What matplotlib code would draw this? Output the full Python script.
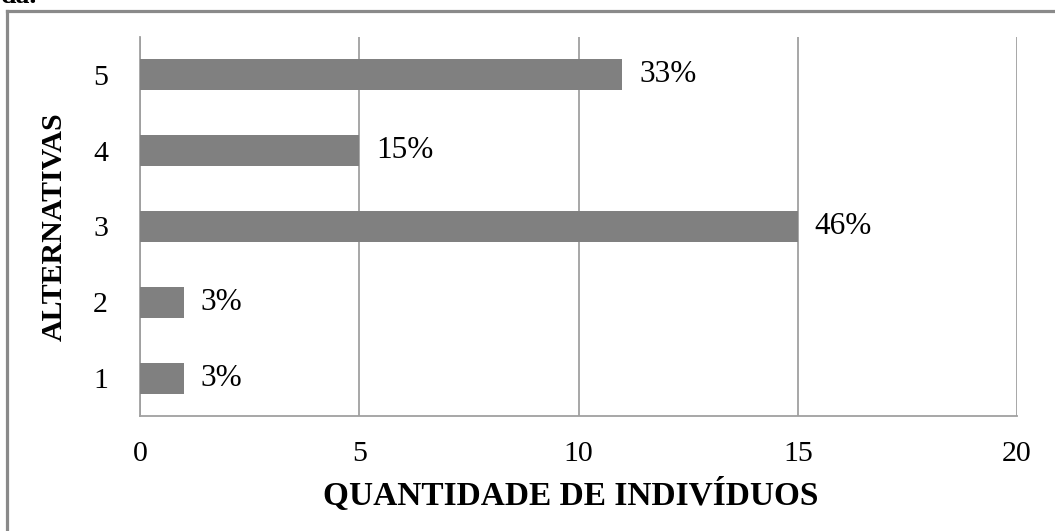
import matplotlib
matplotlib.use("Agg")
import matplotlib.pyplot as plt
from matplotlib.lines import Line2D

categories = ["1", "2", "3", "4", "5"]
values = [1, 1, 15, 5, 11]
pct_labels = ["3%", "3%", "46%", "15%", "33%"]
xticks = [0, 5, 10, 15, 20]

plt.rcParams['font.family'] = ['Liberation Serif', 'DejaVu Serif']

W, H = 1055, 531
fig = plt.figure(figsize=(W / 100, H / 100), dpi=100)
ax = fig.add_axes([140 / W, 1 - 416 / H, (1017 - 140) / W, (416 - 37) / H])

ypos = list(range(1, len(categories) + 1))
ax.barh(ypos, values, height=0.41, color="#808080", zorder=3)
for y, v, lab in zip(ypos, values, pct_labels):
    ax.text(v + 0.38, y, lab, va="center", ha="left", fontsize=22.5, color="#000000")

ax.set_xlim(0, 20)
ax.set_ylim(0.5, 5.5)
ax.set_xticks(xticks)
ax.set_xticklabels([str(t) for t in xticks], fontsize=21.5)
ax.set_yticks(ypos)
ax.set_yticklabels(categories, fontsize=21.5)
ax.tick_params(axis="both", length=0)
ax.tick_params(axis="x", pad=18)
ax.tick_params(axis="y", pad=23)
ax.xaxis.grid(True, color="#a0a0a0", linewidth=1.3, zorder=0)
ax.set_axisbelow(True)
for s in ["top", "right"]:
    ax.spines[s].set_visible(False)
for s in ["left", "bottom"]:
    ax.spines[s].set_color("#a0a0a0")
    ax.spines[s].set_linewidth(1.3)

fig.text(571 / W, 1 - 495 / H, "QUANTIDADE DE INDIVÍDUOS", ha="center", va="center",
         fontsize=24, fontweight="bold")
fig.text(54 / W, 1 - 227 / H, "ALTERNATIVAS", ha="center", va="center",
         rotation=90, fontsize=21.5, fontweight="bold")

# outer border (top and left visible)
fig.add_artist(Line2D([6.5 / W, 1.01], [1 - 11 / H, 1 - 11 / H], transform=fig.transFigure,
                      color="#8a8a8a", linewidth=2.3))
fig.add_artist(Line2D([6.5 / W, 6.5 / W], [1 - 11 / H, -0.01], transform=fig.transFigure,
                      color="#8a8a8a", linewidth=2.3))

# cut-off text from page above
fig.text(1 / W, 1 - 3 / H, "da.", ha="left", va="baseline", fontsize=20, fontweight="bold")

fig.savefig("out.png", dpi=100)
